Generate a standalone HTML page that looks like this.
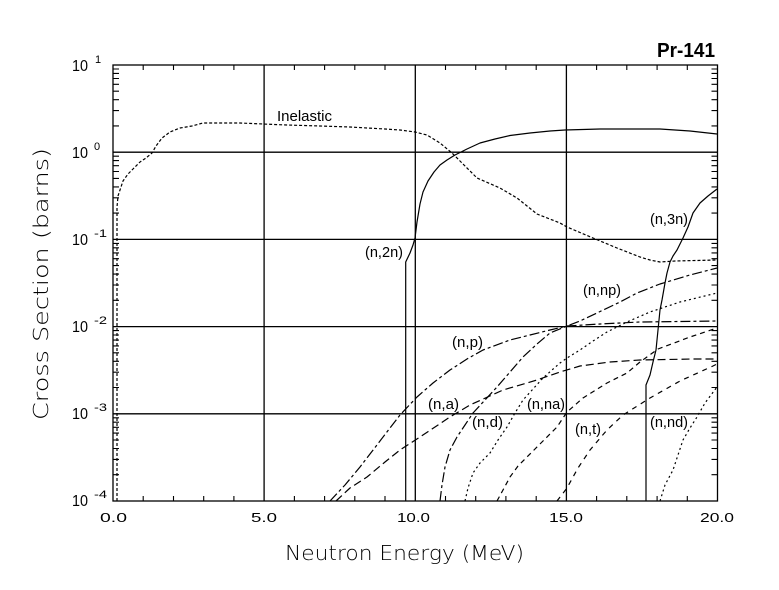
<!DOCTYPE html>
<html><head><meta charset="utf-8"><style>
html,body{margin:0;padding:0;background:#fff;}
svg{display:block;}
text{font-family:"Liberation Sans",sans-serif;fill:#000;}
.thin{font-family:"DejaVu Sans","Liberation Sans",sans-serif;font-weight:200;}
</style></head><body>
<svg width="779" height="590" viewBox="0 0 779 590" xmlns="http://www.w3.org/2000/svg">
<rect x="0" y="0" width="779" height="590" fill="#fff"/>
<!-- grid -->
<g stroke="#000" stroke-width="1.3" fill="none">
<path d="M113,152.2H717.5M113,239.4H717.5M113,326.6H717.5M113,413.8H717.5"/>
<path d="M264.1,65V501M415.3,65V501M566.4,65V501"/>
<rect x="113" y="65" width="604.5" height="436"/>
</g>
<!-- ticks -->
<g stroke="#000" stroke-width="1.1" fill="none">
<path d="M143.2,501v-5M173.5,501v-5M203.7,501v-5M233.9,501v-5M294.4,501v-5M324.6,501v-5M354.8,501v-5M385,501v-5M445.5,501v-5M475.7,501v-5M505.9,501v-5M536.2,501v-5M596.6,501v-5M626.8,501v-5M657.1,501v-5M687.3,501v-5"/>
<path d="M143.2,65v5M173.5,65v5M203.7,65v5M233.9,65v5M294.4,65v5M324.6,65v5M354.8,65v5M385,65v5M445.5,65v5M475.7,65v5M505.9,65v5M536.2,65v5M596.6,65v5M626.8,65v5M657.1,65v5M687.3,65v5"/>
<path d="M113,474.7h6M113,459.4h6M113,448.5h6M113,440h6M113,433.1h6M113,427.3h6M113,422.2h6M113,417.8h6
M113,387.5h6M113,372.2h6M113,361.3h6M113,352.8h6M113,345.9h6M113,340.1h6M113,335h6M113,330.6h6
M113,300.3h6M113,285h6M113,274.1h6M113,265.6h6M113,258.7h6M113,252.9h6M113,247.8h6M113,243.4h6
M113,213.1h6M113,197.8h6M113,186.9h6M113,178.4h6M113,171.5h6M113,165.7h6M113,160.6h6M113,156.2h6
M113,125.9h6M113,110.6h6M113,99.7h6M113,91.2h6M113,84.3h6M113,78.5h6M113,73.4h6M113,69h6"/>
<path d="M717.5,474.7h-6M717.5,459.4h-6M717.5,448.5h-6M717.5,440h-6M717.5,433.1h-6M717.5,427.3h-6M717.5,422.2h-6M717.5,417.8h-6
M717.5,387.5h-6M717.5,372.2h-6M717.5,361.3h-6M717.5,352.8h-6M717.5,345.9h-6M717.5,340.1h-6M717.5,335h-6M717.5,330.6h-6
M717.5,300.3h-6M717.5,285h-6M717.5,274.1h-6M717.5,265.6h-6M717.5,258.7h-6M717.5,252.9h-6M717.5,247.8h-6M717.5,243.4h-6
M717.5,213.1h-6M717.5,197.8h-6M717.5,186.9h-6M717.5,178.4h-6M717.5,171.5h-6M717.5,165.7h-6M717.5,160.6h-6M717.5,156.2h-6
M717.5,125.9h-6M717.5,110.6h-6M717.5,99.7h-6M717.5,91.2h-6M717.5,84.3h-6M717.5,78.5h-6M717.5,73.4h-6M717.5,69h-6"/>
</g>
<!-- curves -->
<g fill="none" stroke="#000" stroke-width="1.2" stroke-linejoin="round">
<!-- Inelastic -->
<path stroke-dasharray="3,2" d="M117,501 L117,207 L118,196 L120,190 L123,181 L128,174 L133,169 L140,162 L146,158 L152,153 L156,146 L162,138 L170,132 L180,128 L192,126 L203,123 L215,123 L240,123 L263,124 L287,125 L320,126 L350,127 L367,128 L385,129 L400,130 L415,132 L427,135 L440,143 L452,153 L465,166 L477,178 L500,188 L517,198 L537,214 L560,223 L567,227 L593,238 L617,248 L640,257 L650,260 L660,262 L675,261 L717,260"/>
<!-- n,2n -->
<path d="M405.7,501 L405.7,262 L410,253 L413,245 L415,238 L417,222 L420,204 L423,192 L428,181 L434,172 L440,165 L447,160 L455,155 L467,149 L480,143 L495,139 L510,135.5 L530,133 L550,131 L565,130 L600,129 L660,129 L690,131 L717,134"/>
<!-- n,3n -->
<path d="M646,501 L646,385 L650,375 L653,362 L656,350 L657,340 L658,330 L659,320 L660,310 L662,300 L665,283 L667,273 L670,262 L673,256 L677,250 L683,238 L688,227 L693,213 L700,203 L708,196 L717,189"/>
<!-- n,p -->
<path stroke-dasharray="10,3,3,3" d="M330,501 L345,485 L360,467 L380,441 L400,415 L417,397 L433,383 L450,370 L467,359 L483,350 L510,340 L530,335 L550,330 L567,326 L600,324 L640,322 L717,321"/>
<!-- n,a -->
<path stroke-dasharray="8,4" d="M336,501 L350,488 L367,477 L385,462 L400,450 L420,437 L450,417 L470,405 L503,390 L537,380 L560,372 L580,366 L610,362 L640,360 L693,359 L717,359"/>
<!-- n,np -->
<path stroke-dasharray="10,3,3,3" d="M440,501 L442,485 L445,467 L450,450 L457,437 L465,425 L473,413 L485,400 L497,387 L510,372 L523,357 L537,344 L550,333 L567,326 L580,321 L597,313 L620,302 L637,293 L660,284 L690,275 L717,268"/>
<!-- n,d -->
<path stroke-dasharray="2,3" d="M465,501 L468,488 L473,473 L480,463 L490,453 L498,440 L507,427 L515,413 L523,400 L533,389 L543,378 L552,370 L560,363 L567,358 L580,350 L593,341 L607,332 L627,322 L650,312 L680,302 L717,293"/>
<!-- n,na -->
<path stroke-dasharray="5,4" d="M497,501 L503,490 L510,477 L518,466 L527,457 L535,449 L543,441 L557,427 L567,412 L583,398 L607,383 L627,373 L640,362 L658,349 L690,337 L717,328"/>
<!-- n,t -->
<path stroke-dasharray="5,5" d="M557,501 L567,488 L578,468 L590,450 L607,430 L623,415 L650,398 L680,381 L713,366 L717,364"/>
<!-- n,nd -->
<path stroke-dasharray="2,3" d="M660,501 L665,485 L673,470 L683,440 L690,428 L697,417 L705,403 L717,387"/>
</g>
<!-- curve labels -->
<g font-size="15">
<text x="277" y="121" textLength="55" lengthAdjust="spacingAndGlyphs">Inelastic</text>
<text x="365" y="257" textLength="38" lengthAdjust="spacingAndGlyphs">(n,2n)</text>
<text x="650" y="224" textLength="38" lengthAdjust="spacingAndGlyphs">(n,3n)</text>
<text x="583" y="295" textLength="38" lengthAdjust="spacingAndGlyphs">(n,np)</text>
<text x="452" y="347" textLength="31" lengthAdjust="spacingAndGlyphs">(n,p)</text>
<text x="428" y="409" textLength="31" lengthAdjust="spacingAndGlyphs">(n,a)</text>
<text x="472" y="427" textLength="31" lengthAdjust="spacingAndGlyphs">(n,d)</text>
<text x="527" y="409" textLength="38" lengthAdjust="spacingAndGlyphs">(n,na)</text>
<text x="575" y="434" textLength="26" lengthAdjust="spacingAndGlyphs">(n,t)</text>
<text x="650" y="427" textLength="38" lengthAdjust="spacingAndGlyphs">(n,nd)</text>
</g>
<!-- title -->
<text x="657" y="57" font-size="20" font-weight="bold" textLength="58" lengthAdjust="spacingAndGlyphs">Pr-141</text>
<!-- y tick labels -->
<g font-size="16" class="thin">
<text x="72" y="71" textLength="16" lengthAdjust="spacingAndGlyphs">10</text>
<text x="72" y="158" textLength="16" lengthAdjust="spacingAndGlyphs">10</text>
<text x="72" y="245" textLength="16" lengthAdjust="spacingAndGlyphs">10</text>
<text x="72" y="332" textLength="16" lengthAdjust="spacingAndGlyphs">10</text>
<text x="72" y="419" textLength="16" lengthAdjust="spacingAndGlyphs">10</text>
<text x="72" y="506" textLength="16" lengthAdjust="spacingAndGlyphs">10</text>
</g>
<g font-size="11" class="thin">
<text x="95" y="63">1</text>
<text x="94" y="150">0</text>
<text x="94" y="237" textLength="13" lengthAdjust="spacingAndGlyphs">-1</text>
<text x="94" y="324" textLength="13" lengthAdjust="spacingAndGlyphs">-2</text>
<text x="94" y="411" textLength="13" lengthAdjust="spacingAndGlyphs">-3</text>
<text x="94" y="498" textLength="13" lengthAdjust="spacingAndGlyphs">-4</text>
</g>
<!-- x tick labels -->
<g font-size="13" class="thin">
<text x="100" y="522" textLength="27" lengthAdjust="spacingAndGlyphs">0.0</text>
<text x="251" y="522" textLength="26" lengthAdjust="spacingAndGlyphs">5.0</text>
<text x="397" y="522" textLength="33" lengthAdjust="spacingAndGlyphs">10.0</text>
<text x="549" y="522" textLength="34" lengthAdjust="spacingAndGlyphs">15.0</text>
<text x="700" y="522" textLength="34" lengthAdjust="spacingAndGlyphs">20.0</text>
</g>
<!-- axis titles -->
<text class="thin" x="285" y="560" font-size="20" textLength="239" lengthAdjust="spacingAndGlyphs">Neutron Energy (MeV)</text>
<text class="thin" transform="translate(48,420) rotate(-90)" x="0" y="0" font-size="20" textLength="272" lengthAdjust="spacingAndGlyphs">Cross Section (barns)</text>
</svg>
</body></html>
